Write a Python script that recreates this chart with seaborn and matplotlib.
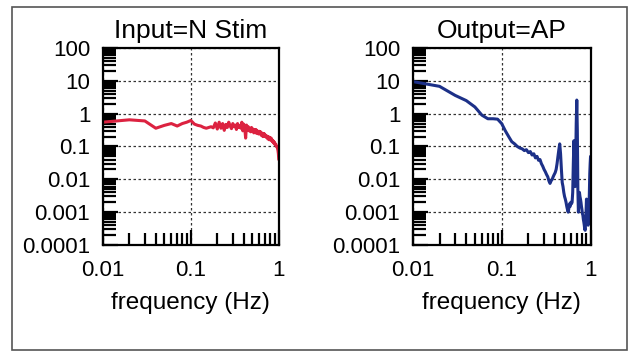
import matplotlib
matplotlib.use("Agg")
import matplotlib.pyplot as plt
import matplotlib.ticker as mticker
from matplotlib.patches import Rectangle
import seaborn as sns
import pandas as pd

# ---------------- data ----------------
freq = [0.01, 0.02, 0.03, 0.04, 0.05, 0.06, 0.07, 0.08, 0.09, 0.10,
        0.11, 0.12, 0.13, 0.14, 0.15, 0.16, 0.17, 0.18, 0.19, 0.20,
        0.21, 0.22, 0.23, 0.24, 0.25, 0.26, 0.27, 0.28, 0.29, 0.30,
        0.31, 0.32, 0.33, 0.34, 0.35, 0.36, 0.37, 0.38, 0.39, 0.40,
        0.41, 0.42, 0.43, 0.44, 0.45, 0.46, 0.47, 0.48, 0.49, 0.50,
        0.51, 0.52, 0.53, 0.54, 0.55, 0.56, 0.57, 0.58, 0.59, 0.60,
        0.61, 0.62, 0.63, 0.64, 0.65, 0.66, 0.67, 0.68, 0.69, 0.70,
        0.71, 0.72, 0.73, 0.74, 0.75, 0.76, 0.77, 0.78, 0.79, 0.80,
        0.81, 0.82, 0.83, 0.84, 0.85, 0.86, 0.87, 0.88, 0.89, 0.90,
        0.91, 0.92, 0.93, 0.94, 0.95, 0.96, 0.97, 0.98, 0.99, 1.00]

input_power = [0.55, 0.65, 0.60, 0.36, 0.44, 0.50, 0.42, 0.50, 0.55, 0.62,
               0.48, 0.44, 0.42, 0.38, 0.36, 0.38, 0.40, 0.37, 0.52, 0.34,
               0.55, 0.36, 0.50, 0.31, 0.47, 0.38, 0.55, 0.42, 0.35, 0.50,
               0.40, 0.45, 0.33, 0.50, 0.38, 0.44, 0.36, 0.55, 0.30, 0.48,
               0.38, 0.18, 0.45, 0.32, 0.40, 0.30, 0.36, 0.28, 0.38, 0.30,
               0.34, 0.26, 0.32, 0.28, 0.33, 0.25, 0.30, 0.27, 0.24, 0.29,
               0.25, 0.28, 0.22, 0.26, 0.24, 0.20, 0.25, 0.22, 0.24, 0.20,
               0.22, 0.19, 0.21, 0.20, 0.17, 0.20, 0.18, 0.16, 0.19, 0.17,
               0.16, 0.18, 0.15, 0.16, 0.14, 0.15, 0.13, 0.14, 0.12, 0.13,
               0.12, 0.11, 0.115, 0.10, 0.10, 0.095, 0.085, 0.075, 0.06, 0.04]

output_power = [9.5, 6.8, 3.6, 2.5, 1.6, 0.9, 0.7, 0.7, 0.68, 0.5,
                0.3, 0.2, 0.14, 0.12, 0.1, 0.09, 0.085, 0.075, 0.08, 0.065,
                0.07, 0.055, 0.06, 0.045, 0.05, 0.038, 0.04, 0.03, 0.025, 0.02,
                0.017, 0.014, 0.012, 0.009, 0.0075, 0.009, 0.01, 0.012, 0.014, 0.016,
                0.02, 0.03, 0.05, 0.08, 0.12, 0.06, 0.02, 0.008, 0.006, 0.004,
                0.003, 0.0025, 0.002, 0.0015, 0.0012, 0.001, 0.0013, 0.0018, 0.0015, 0.002,
                0.0018, 0.002, 0.004, 0.03, 0.15, 0.02, 0.006, 0.03, 0.5, 2.6,
                0.3, 0.005, 0.001, 0.002, 0.004, 0.003, 0.0025, 0.002, 0.0015, 0.0012,
                0.0009, 0.0008, 0.0006, 0.0005, 0.0004, 0.0003, 0.00028, 0.0005, 0.001, 0.0025,
                0.0015, 0.0008, 0.0005, 0.0004, 0.0006, 0.0012, 0.004, 0.015, 0.03, 0.05]

titles = ["Input=N Stim", "Output=AP"]
x_label = "frequency (Hz)"
y_ticks = [100, 10, 1, 0.1, 0.01, 0.001, 0.0001]
y_tick_labels = ["100", "10", "1", "0.1", "0.01", "0.001", "0.0001"]
x_ticks = [0.01, 0.1, 1]
x_tick_labels = ["0.01", "0.1", "1"]

# ---------------- style ----------------
sns.set_style("white")
plt.rcParams["font.family"] = ["Liberation Sans", "DejaVu Sans"]
plt.rcParams["text.color"] = "black"
plt.rcParams["axes.labelcolor"] = "black"
plt.rcParams["xtick.color"] = "black"
plt.rcParams["ytick.color"] = "black"

fig = plt.figure(figsize=(6.35, 3.53), dpi=100)
axL = fig.add_axes([0.162, 0.306, 0.277, 0.558])
axR = fig.add_axes([0.650, 0.306, 0.280, 0.558])

df_in = pd.DataFrame({"freq": freq, "power": input_power})
df_out = pd.DataFrame({"freq": freq, "power": output_power})

sns.lineplot(data=df_in, x="freq", y="power", ax=axL, color="#dc2240",
             linewidth=2.2, estimator=None, sort=False)
sns.lineplot(data=df_out, x="freq", y="power", ax=axR, color="#1c3088",
             linewidth=2.2, estimator=None, sort=False)

for ax, title in zip([axL, axR], titles):
    ax.set_xscale("log")
    ax.set_yscale("log")
    ax.set_xlim(0.01, 1)
    ax.set_ylim(0.0001, 100)
    ax.set_yticks(y_ticks)
    ax.set_yticklabels(y_tick_labels)
    ax.set_xticks(x_ticks)
    ax.set_xticklabels(x_tick_labels)
    ax.yaxis.set_minor_locator(mticker.LogLocator(base=10, subs=range(2, 10), numticks=20))
    ax.xaxis.set_minor_locator(mticker.LogLocator(base=10, subs=range(2, 10), numticks=20))
    ax.yaxis.set_minor_formatter(mticker.NullFormatter())
    ax.xaxis.set_minor_formatter(mticker.NullFormatter())
    ax.tick_params(axis="both", which="major", direction="in", length=11, width=1.6,
                   labelsize=16, color="black", labelcolor="black", pad=8,
                   left=True, bottom=True)
    ax.tick_params(axis="y", which="major", pad=9)
    ax.tick_params(axis="x", which="major", pad=11)
    ax.tick_params(axis="both", which="minor", direction="in", length=9, width=1.6,
                   color="black", left=True, bottom=True)
    ax.grid(True, which="major", linestyle=(0, (2, 2)), color="#333333", linewidth=0.9)
    ax.grid(False, which="minor")
    for sp in ax.spines.values():
        sp.set_color("black")
        sp.set_linewidth(1.6)
        sp.set_visible(True)
    ax.set_title(title, fontsize=19, pad=7, color="black")
    ax.set_xlabel(x_label, fontsize=17.5, labelpad=8, color="black")
    ax.set_ylabel("")

# outer frame
fig.patches.append(Rectangle((12 / 635, 3 / 353), (627 - 12) / 635, (348 - 5) / 353,
                             transform=fig.transFigure, fill=False,
                             edgecolor="#555555", linewidth=1.2))

fig.savefig("out.png", dpi=100)
